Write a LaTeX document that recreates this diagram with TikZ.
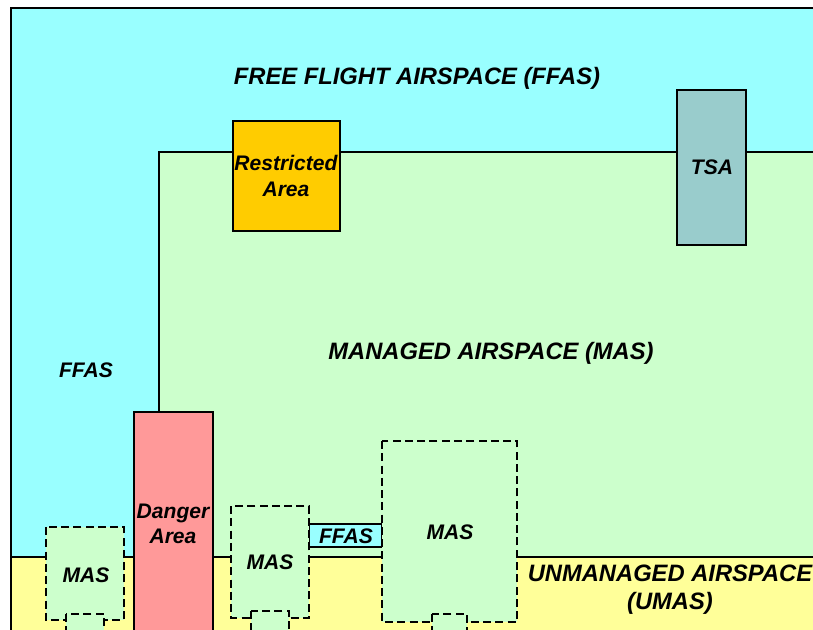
\documentclass[tikz,border=0pt]{standalone}
\usepackage{fontspec}
\setmainfont{Liberation Sans}
\definecolor{ffas}{HTML}{99FFFF}
\definecolor{mas}{HTML}{CCFFCC}
\definecolor{umas}{HTML}{FFFF99}
\definecolor{restr}{HTML}{FFCC00}
\definecolor{tsa}{HTML}{99CCCC}
\definecolor{danger}{HTML}{FF9999}
\begin{document}
\begin{tikzpicture}[x=0.75pt,y=-0.75pt,
  solidbox/.style={draw=black,line width=1.3pt},
  dashbox/.style={draw=black,line width=1.5pt,dash pattern=on 6pt off 3.2pt,fill=mas},
  biglabel/.style={font=\bfseries\itshape\fontsize{17.8pt}{21pt}\selectfont,inner sep=0,align=center},
  lbl/.style={font=\bfseries\itshape\fontsize{15.8pt}{19pt}\selectfont,inner sep=0,align=center}]
\useasboundingbox (0,0) rectangle (813,630);
\fill[white] (0,0) rectangle (813,630);
\clip (0,0) rectangle (813,630);
% regions
\draw[solidbox,fill=ffas] (11,8) rectangle (840,660);
\draw[solidbox,fill=mas] (159,152) rectangle (840,557);
\draw[solidbox,fill=umas] (11,557) rectangle (840,660);
% restricted and TSA
\draw[solidbox,fill=restr] (233,121) rectangle (340,231);
\draw[solidbox,fill=tsa] (677,90) rectangle (746,245);
% danger area
\draw[solidbox,fill=danger] (134,412) rectangle (213,660);
% small FFAS
\draw[solidbox,line width=1.1pt,fill=ffas] (309,524) rectangle (382,547);
% dashed MAS boxes
\draw[dashbox] (46,527) rectangle (124,620);
\draw[dashbox] (66,614) rectangle (104,650);
\draw[dashbox] (231,506) rectangle (309,618);
\draw[dashbox] (251,611) rectangle (289,650);
\draw[dashbox] (382,441) rectangle (517,622);
\draw[dashbox] (432,614) rectangle (467,650);
% labels
\node[biglabel] (tffas) at (417,78) {FREE FLIGHT AIRSPACE (FFAS)};
\node[biglabel] (tmas) at (491,353) {MANAGED AIRSPACE (MAS)};
\node[biglabel] (tumas) at (670,590) {UNMANAGED AIRSPACE\\(UMAS)};
\node[lbl] (lffas) at (86,370) {FFAS};
\node[lbl] (lrestr) at (286,176) {Restricted\\Area};
\node[lbl] (ltsa) at (712,167) {TSA};
\node[lbl] (ldanger) at (173,524) {Danger\\Area};
\node[lbl] (lmas1) at (86,575) {MAS};
\node[lbl] (lmas2) at (270,562) {MAS};
\node[lbl] (lmas3) at (450,532) {MAS};
\node[lbl] (lffas2) at (346,536) {FFAS};
\end{tikzpicture}
\end{document}
